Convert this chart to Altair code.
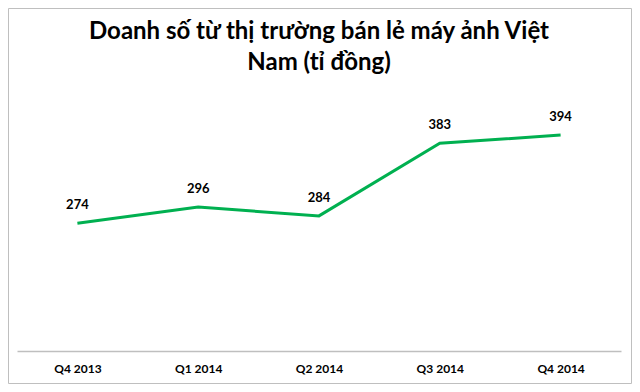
import altair as alt
import pandas as pd

quarters = ["Q4 2013", "Q1 2014", "Q2 2014", "Q3 2014", "Q4 2014"]
values = [274, 296, 284, 383, 394]

df = pd.DataFrame({"quarter": quarters, "value": values})

FONT = "Lato"
W, H = 604, 257

x = alt.X("quarter:N", sort=quarters,
          scale=alt.Scale(type="point", padding=0.5),
          axis=alt.Axis(title=None, ticks=False, labelAngle=0,
                        labelFont=FONT, labelFontWeight="bold", labelFontSize=12,
                        labelColor="#000000", labelPadding=12,
                        domainColor="#bfbfbf", domainWidth=1.5, grid=False))
y = alt.Y("value:Q", scale=alt.Scale(domain=[100, 450], nice=False, zero=False),
          axis=None)

base = alt.Chart(df)

line = base.mark_line(color="#00B050", strokeWidth=3).encode(x=x, y=y)
text = base.mark_text(dy=-18, font=FONT, fontWeight="bold", fontSize=13,
                      color="#000000").encode(x=x, y=y, text="value:Q")

border = alt.Chart(pd.DataFrame({"a": [0]})).mark_rect(
    filled=False, stroke="#bfbfbf", strokeWidth=1
).encode(x=alt.value(-8.5), x2=alt.value(614.5),
         y=alt.value(-85.5), y2=alt.value(289.5))

chart = alt.layer(border, line, text).properties(
    width=W, height=H,
    title=alt.TitleParams(
        text=["Doanh số từ thị trường bán lẻ máy ảnh Việt", "Nam (tỉ đồng)"],
        font=FONT, fontSize=24, fontWeight="bold", color="#000000",
        anchor="middle", lineHeight=31, offset=0, dy=67),
    autosize=alt.AutoSizeParams(type="none"),
    padding={"left": 9, "top": 86, "right": 11, "bottom": 33},
    background="white",
).configure_view(stroke=None)

chart.save("out.html", embed_options={"renderer": "svg", "actions": False})
